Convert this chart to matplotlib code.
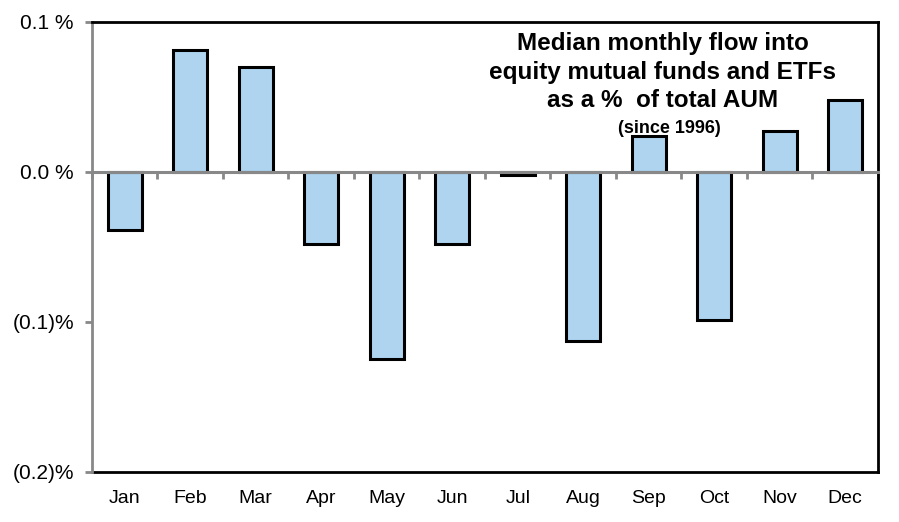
import numpy as np
import matplotlib.pyplot as plt

plt.rcParams['font.family'] = ['Liberation Sans', 'DejaVu Sans']

months = ['Jan', 'Feb', 'Mar', 'Apr', 'May', 'Jun', 'Jul', 'Aug', 'Sep', 'Oct', 'Nov', 'Dec']
flows = [-0.039, 0.081, 0.070, -0.048, -0.125, -0.048, -0.002, -0.113, 0.024, -0.099, 0.027, 0.048]

y_ticks = [0.1, 0.0, -0.1, -0.2]
y_labels = ['0.1 %', '0.0 %', '(0.1)%', '(0.2)%']

fig = plt.figure(figsize=(8.99, 5.22), dpi=100)
ax = fig.add_axes([0.1023, 0.0958, 0.8743, 0.8621])

x = np.arange(len(months))
ax.bar(x, flows, width=0.52, color='#AED4F0', edgecolor='black', linewidth=2.2, zorder=2)

ax.set_xlim(-0.5, len(months) - 0.5)
ax.set_ylim(-0.2, 0.1)

# zero line with category boundary ticks
ax.spines['bottom'].set_position(('data', 0))
ax.spines['bottom'].set_color('#888888')
ax.spines['bottom'].set_linewidth(2.2)
ax.spines['bottom'].set_zorder(3)
ax.set_xticks(np.arange(len(months) + 1) - 0.5)
ax.set_xticklabels([])
ax.tick_params(axis='x', direction='out', length=5, width=2, color='#888888')

ax.spines['left'].set_color('#888888')
ax.spines['left'].set_linewidth(2)
for s in ['top', 'right']:
    ax.spines[s].set_color('black')
    ax.spines[s].set_linewidth(2)

ax.set_yticks(y_ticks)
ax.set_yticklabels(y_labels, fontsize=15)
ax.tick_params(axis='y', direction='out', length=5, width=2, color='#888888', pad=8)

# month labels along the bottom frame
sec = ax.secondary_xaxis('bottom')
sec.set_xticks(x)
sec.set_xticklabels(months, fontsize=14)
sec.tick_params(length=0, pad=13)
sec.spines['bottom'].set_color('black')
sec.spines['bottom'].set_linewidth(2)

ax.text(0.726, 0.977, 'Median monthly flow into\nequity mutual funds and ETFs\nas a %  of total AUM',
        transform=ax.transAxes, ha='center', va='top', fontsize=17.5, fontweight='bold',
        linespacing=1.3)
ax.text(0.735, 0.783, '(since 1996)', transform=ax.transAxes, ha='center', va='top',
        fontsize=13, fontweight='bold')

fig.savefig('out.png', dpi=100)
